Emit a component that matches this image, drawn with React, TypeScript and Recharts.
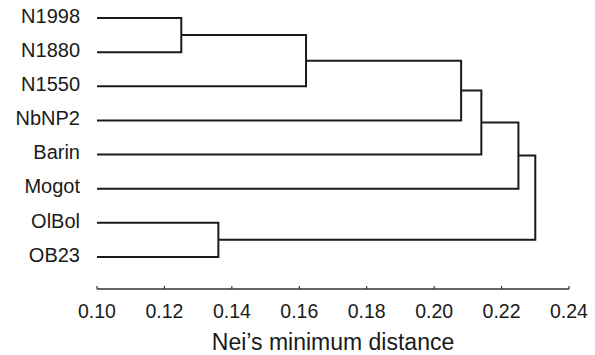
import { ComposedChart, Line, XAxis, YAxis } from "recharts";

// leaves, top to bottom
const leaves = ["N1998", "N1880", "N1550", "NbNP2", "Barin", "Mogot", "OlBol", "OB23"];

// linkage: ids >= leaves.length refer to earlier merges (leaves.length + k)
const mergeLeft = [0, 6, 8, 10, 11, 12, 13];
const mergeRight = [1, 7, 2, 3, 4, 5, 9];
const mergeHeight = [0.125, 0.136, 0.162, 0.208, 0.214, 0.225, 0.23];

const distanceTicks = [0.1, 0.12, 0.14, 0.16, 0.18, 0.2, 0.22, 0.24];
const distanceMin = 0.1;
const distanceMax = 0.24;

const INK = "#1a1a1a";
const FONT = '"Liberation Sans", Arial, Helvetica, sans-serif';

// position / height of each node, then one bracket per merge
const nodePos: number[] = leaves.map((_, i) => i);
const nodeHeight: number[] = leaves.map(() => distanceMin);
const links = mergeHeight.map((h, k) => {
  const l = mergeLeft[k];
  const r = mergeRight[k];
  nodePos.push((nodePos[l] + nodePos[r]) / 2);
  nodeHeight.push(h);
  return [
    { x: nodeHeight[l], y: nodePos[l] },
    { x: h, y: nodePos[l] },
    { x: h, y: nodePos[r] },
    { x: nodeHeight[r], y: nodePos[r] },
  ];
});

const LeafTick = (props: any) => {
  const { x, y, payload } = props;
  return (
    <text x={x} y={y} dy={4.7} textAnchor="end" fontSize={20} fill={INK}>
      {leaves[payload.value]}
    </text>
  );
};

const DistanceTick = (props: any) => {
  const { x, y, payload } = props;
  return (
    <g>
      <line x1={x} x2={x} y1={y} y2={y - 3} stroke="#333" strokeWidth={1.2} />
      <text x={x} y={y} dy={29} textAnchor="middle" fontSize={19.5} fill={INK}>
        {payload.value.toFixed(2)}
      </text>
    </g>
  );
};

export default function App() {
  return (
    <div style={{ position: "absolute", left: 0, top: 0, fontFamily: FONT, background: "#fff" }}>
      <ComposedChart width={595} height={355} margin={{ top: 1, right: 26, bottom: 0, left: 0 }}>
        <XAxis
          type="number"
          dataKey="x"
          domain={[distanceMin, distanceMax]}
          ticks={distanceTicks}
          allowDataOverflow
          height={66}
          tickSize={0}
          tickMargin={0}
          tickLine={false}
          axisLine={{ stroke: "#333", strokeWidth: 1.5 }}
          tick={<DistanceTick />}
          interval={0}
          label={{
            value: "Nei\u2019s minimum distance",
            position: "insideBottom",
            offset: 5,
            fontSize: 23,
            fill: INK,
          }}
        />
        <YAxis
          type="number"
          dataKey="y"
          domain={[-0.5, 7.94]}
          ticks={leaves.map((_, i) => i)}
          reversed
          allowDataOverflow
          width={97}
          tickSize={0}
          tickMargin={17}
          tickLine={false}
          axisLine={false}
          tick={<LeafTick />}
          interval={0}
        />
        {links.map((pts, k) => (
          <Line
            key={k}
            data={pts}
            dataKey="y"
            type="linear"
            stroke={INK}
            strokeWidth={2}
            dot={false}
            activeDot={false}
            isAnimationActive={false}
          />
        ))}
      </ComposedChart>
    </div>
  );
}
